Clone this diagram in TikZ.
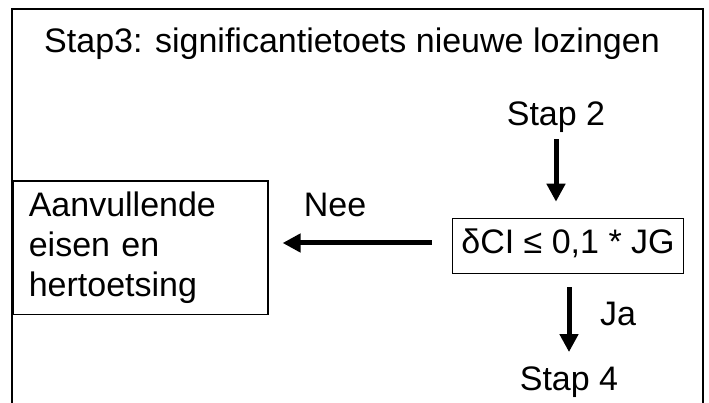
\documentclass[tikz,border=0pt]{standalone}
\usepackage{fontspec}
\setmainfont{Liberation Sans}
\usetikzlibrary{arrows.meta,positioning}

\begin{document}
\begin{tikzpicture}[x=1pt,y=-1pt,
    txt/.style={inner sep=0pt,font=\fontsize{34}{40}\selectfont},
    box/.style={draw,line width=1.6pt,font=\fontsize{34}{40}\selectfont},
    arr/.style={line width=5pt,-{Triangle[length=18pt,width=18pt]}}]
\useasboundingbox (0,0) rectangle (709,403);

% Frame
\draw[line width=1.6pt] (12,403) -- (12,9) -- (703,9) -- (703,403);

% Title
\node[txt, anchor=base] (title) at (352,53) {Stap3: significantietoets nieuwe lozingen};

% Steps
\node[txt, anchor=base] (stap2) at (556,126) {Stap 2};
\node[box, inner xsep=9pt, text height=24pt, text depth=9pt, inner ysep=11pt] (check) at (568,246) {δCI ≤ 0,1 * JG};
\node[box, anchor=north west, text width=223pt, inner xsep=16pt, inner ysep=11pt, align=left] (extra) at (12,180) {Aanvullende\\eisen en\\hertoetsing};
\node[txt, anchor=base] (stap4) at (569,390) {Stap 4};

% Connectors
\draw[arr, shorten <=6pt, shorten >=16pt] (stap2.south) -- (stap2.south |- check.north);
\draw[arr, shorten <=20pt, shorten >=14pt] ([yshift=3pt]check.west) -- ([yshift=3pt]check.west -| extra.east);
\draw[arr, shorten <=13pt, shorten >=14pt] (stap4.north |- check.south) -- (stap4.north);

% Labels
\node[txt, anchor=base] (nee) at (335,217) {Nee};
\node[txt, anchor=base] (ja) at (618,325) {Ja};

\end{tikzpicture}
\end{document}
